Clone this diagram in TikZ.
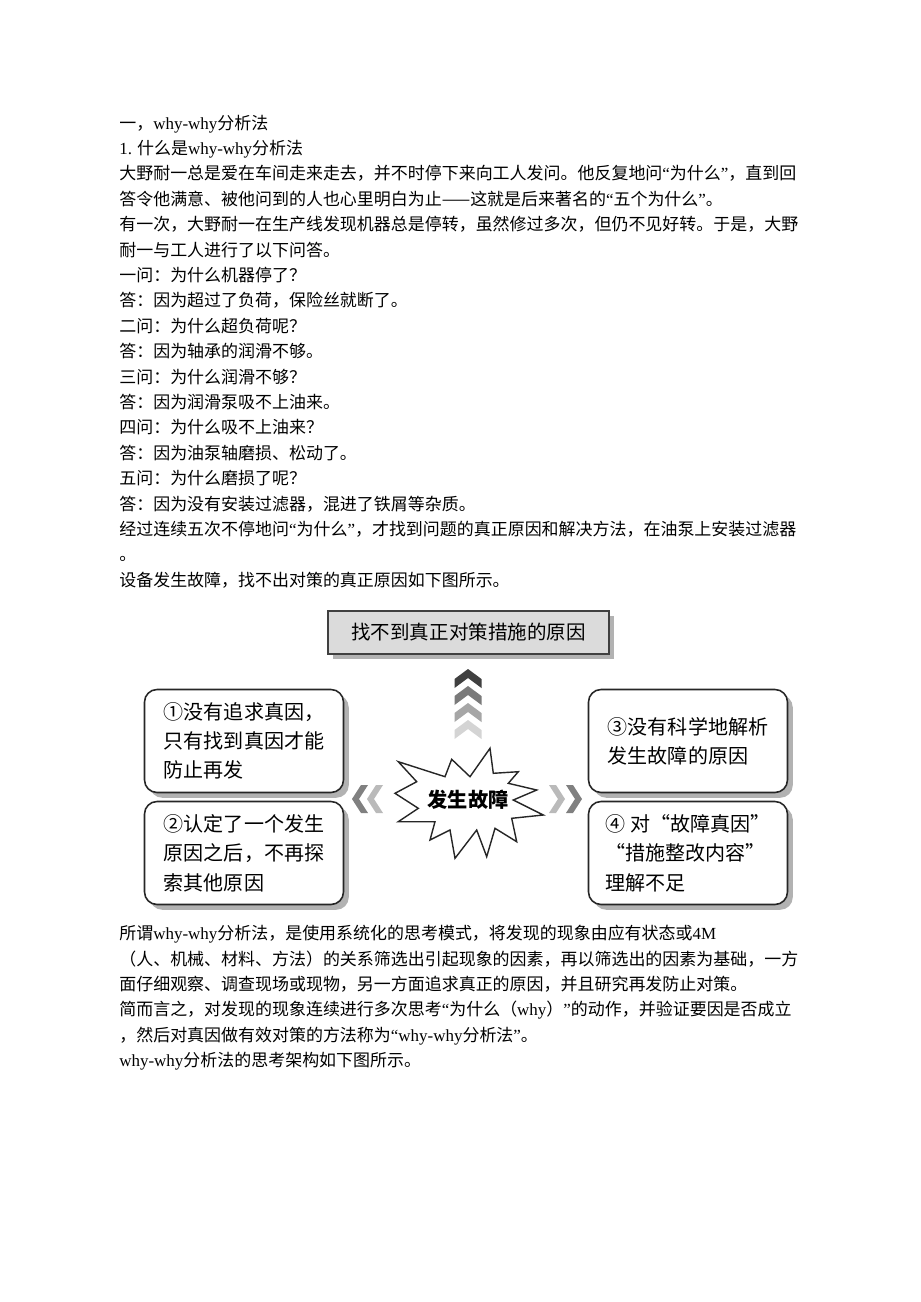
\documentclass[tikz,border=0pt]{standalone}
\usepackage{fontspec}
\setmainfont{Noto Sans CJK SC}
\newfontfamily\latin{Liberation Serif}
\usepackage{tikz}
\usetikzlibrary{positioning,calc,shadows}

\tikzset{
  bodyline/.style={anchor=west, inner sep=0pt, text height=0.88em, text depth=0.12em,
    font=\fontsize{9.66pt}{12pt}\selectfont},
  titlebox/.style={draw=black!75, line width=0.9pt, fill=black!14, minimum width=5.62cm,
    minimum height=0.86cm, inner sep=0pt, font=\fontsize{11.1pt}{13pt}\selectfont,
    drop shadow={shadow xshift=3pt, shadow yshift=-3pt, fill=black!30, opacity=1}},
  causebox/.style={draw=black!85, line width=0.9pt, rounded corners=0.25cm, fill=white,
    minimum width=3.98cm, minimum height=2.06cm, align=left, inner sep=0pt,
    font=\fontsize{11.4pt}{16.7pt}\selectfont,
    drop shadow={shadow xshift=3pt, shadow yshift=-3pt, fill=black!30, opacity=1}},
  burst/.style={draw=black!85, line width=0.8pt, fill=white, line join=miter}
}

\begin{document}
\begin{tikzpicture}[x=0.02cm, y=-0.02cm]
    \fill [white] (0,0) rectangle (920,1302);
    \useasboundingbox (0,0) rectangle (920,1302);

    % Text above the figure
    \foreach \lab [count=\i] in {
        {一，{\latin why-why}分析法},
        {{\latin 1.} 什么是{\latin why-why}分析法},
        {大野耐一总是爱在车间走来走去，并不时停下来向工人发问。他反复地问{\latin “}为什么{\latin ”}，直到回},
        {答令他满意、被他问到的人也心里明白为止——这就是后来著名的{\latin “}五个为什么{\latin ”}。},
        {有一次，大野耐一在生产线发现机器总是停转，虽然修过多次，但仍不见好转。于是，大野},
        {耐一与工人进行了以下问答。},
        {一问：为什么机器停了？},
        {答：因为超过了负荷，保险丝就断了。},
        {二问：为什么超负荷呢？},
        {答：因为轴承的润滑不够。},
        {三问：为什么润滑不够？},
        {答：因为润滑泵吸不上油来。},
        {四问：为什么吸不上油来？},
        {答：因为油泵轴磨损、松动了。},
        {五问：为什么磨损了呢？},
        {答：因为没有安装过滤器，混进了铁屑等杂质。},
        {经过连续五次不停地问{\latin “}为什么{\latin ”}，才找到问题的真正原因和解决方法，在油泵上安装过滤器},
        {。},
        {设备发生故障，找不出对策的真正原因如下图所示。}} {
        \node [bodyline] (top\i) at (119,{97.1+25.4*\i}) {\lab};
    }

    % Figure: title box
    \node [titlebox] (title) at (468.5,632.5) {找不到真正对策措施的原因};

    % Four causes
    \node [causebox] (c1) at (244,741) {①没有追求真因，\\只有找到真因才能\\防止再发};
    \node [causebox] (c2) at (244,853) {②认定了一个发生\\原因之后，不再探\\索其他原因};
    \node [causebox] (c3) at (688,741) {③没有科学地解析\\发生故障的原因};
    \node [causebox] (c4) at (688,853) {④ 对“故障真因”\\“措施整改内容”\\理解不足};

    % Up chevrons
    \foreach \y/\col in {669/black!75, 686/black!52, 703/black!35, 720/black!17} {
        \fill [\col] (468,\y) -- (481.5,\y+10) -- (481.5,\y+19) -- (468,\y+9)
            -- (454.5,\y+19) -- (454.5,\y+10) -- cycle;
    }

    % Side chevrons
    \foreach \x/\col in {352/black!50, 367/black!27} {
        \fill [\col] (\x,799) -- (\x+9,785) -- (\x+16,785) -- (\x+7,799)
            -- (\x+16,813) -- (\x+9,813) -- cycle;
    }
    \foreach \x/\col in {582/black!50, 565/black!27} {
        \fill [\col] (\x,799) -- (\x-9,785) -- (\x-16,785) -- (\x-7,799)
            -- (\x-16,813) -- (\x-9,813) -- cycle;
    }

    % Starburst
    \draw [burst] (398.3,761.7) -- (445,776.7) -- (451.7,759.3) -- (470,776.7)
        -- (490,748.3) -- (493.3,773.3) -- (518.3,771.7) -- (508.3,783.3)
        -- (536.7,790) -- (513.3,800) -- (543.3,815) -- (511.7,818.3)
        -- (516.7,841.7) -- (495,828.3) -- (486.7,856.7) -- (476.7,830)
        -- (455,858.3) -- (450,830) -- (430,840) -- (435,821.7)
        -- (398.3,821.7) -- (418.3,808.3) -- (395,793.3) -- (416.7,781.7) -- cycle;
    \node [inner sep=0pt, font=\fontsize{11.5pt}{13pt}\selectfont\bfseries] (fault) at (468,800) {发生故障};

    % Text below the figure
    \foreach \lab [count=\i] in {
        {所谓{\latin why-why}分析法，是使用系统化的思考模式，将发现的现象由应有状态或{\latin 4M}},
        {（人、机械、材料、方法）的关系筛选出引起现象的因素，再以筛选出的因素为基础，一方},
        {面仔细观察、调查现场或现物，另一方面追求真正的原因，并且研究再发防止对策。},
        {简而言之，对发现的现象连续进行多次思考{\latin “}为什么（{\latin why}）{\latin ”}的动作，并验证要因是否成立},
        {，然后对真因做有效对策的方法称为{\latin “why-why}分析法{\latin ”}。},
        {{\latin why-why}分析法的思考架构如下图所示。}} {
        \node [bodyline] (bot\i) at (119,{907.6+25.4*\i}) {\lab};
    }
\end{tikzpicture}
\end{document}
